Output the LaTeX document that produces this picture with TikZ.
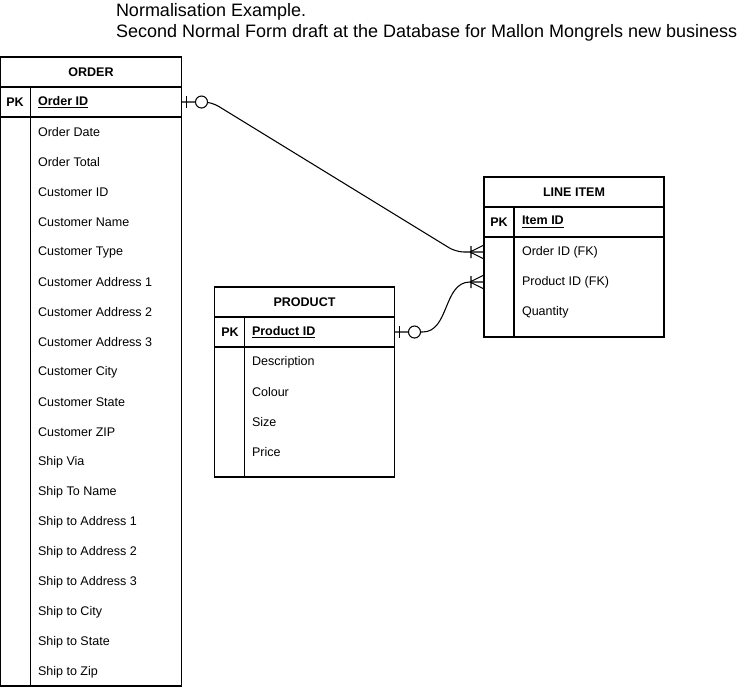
\documentclass[tikz,border=0pt]{standalone}
\usepackage{fontspec}
\setmainfont{Liberation Sans}
\usetikzlibrary{calc,positioning}
\newlength\upx
\setlength\upx{0.75pt}
\tikzset{
  every node/.style={outer sep=0pt},
  tabhead/.style={draw, line width=0.8pt, minimum height=30\upx, inner sep=0pt, font=\bfseries\fontsize{9.4}{11}\selectfont},
  keyrow/.style={draw, line width=0.8pt, minimum height=30\upx, inner sep=0pt},
  tabbody/.style={draw, line width=0.8pt, anchor=north west, inner sep=0pt},
  field/.style={anchor=west, inner sep=0pt, font=\fontsize{9.4}{11}\selectfont},
  keyname/.style={anchor=west, inner sep=0pt, font=\bfseries\fontsize{9.4}{11}\selectfont},
  pklabel/.style={inner sep=0pt, font=\bfseries\fontsize{9.4}{11}\selectfont},
  relline/.style={line width=0.8pt},
  zeroone/.pic={
    \draw[relline] (5,-6) -- (5,6);
    \draw[relline, fill=white] (20,0) circle[radius=4.5pt];
  },
  onemany/.pic={
    \draw[relline] (-14,0) -- (0,-7) (-14,0) -- (0,7) (-13,-6) -- (-13,6);
  },
}
\begin{document}
\begin{tikzpicture}[x=0.75pt, y=-0.75pt]
    \useasboundingbox (0,0) rectangle (755,687);

    % Title
    \node[anchor=north west, align=left, inner sep=0pt, font=\fontsize{13.5}{15.75}\selectfont] (title) at (116,3)
        {Normalisation Example.\\Second Normal Form draft at the Database for Mallon Mongrels new business};

    % Order
    \node[tabhead, minimum width=181\upx] (order) at (91,72) {ORDER};
    \node[keyrow, minimum width=181\upx] (orderpk) at (91,102) {};
    \node[tabbody, minimum width=181\upx, minimum height=569\upx] (orderbody) at (0.5,117) {};
    \draw[relline] ($(orderpk.north west)+(30,0)$) -- ($(orderbody.south west)+(30,0)$);
    \node[pklabel] (orderpkl) at (15,102) {PK};
    \node[keyname] (orderid) at (38,102) {\underline{Order ID}};
    \foreach \f [count=\i] in {Order Date, Order Total, Customer ID, Customer Name, Customer Type,
        Customer Address 1, Customer Address 2, Customer Address 3, Customer City, Customer State,
        Customer ZIP, Ship Via, Ship To Name, Ship to Address 1, Ship to Address 2, Ship to Address 3,
        Ship to City, Ship to State, Ship to Zip}
        \node[field] (order\i) at (38,102+30*\i) {\f};

    % Line Item
    \node[tabhead, minimum width=180\upx] (li) at (574,192) {LINE ITEM};
    \node[keyrow, minimum width=180\upx] (lipk) at (574,222) {};
    \node[tabbody, minimum width=180\upx, minimum height=100\upx] (libody) at (484,237) {};
    \draw[relline] ($(lipk.north west)+(30,0)$) -- ($(libody.south west)+(30,0)$);
    \node[pklabel] (lipkl) at (499,222) {PK};
    \node[keyname] (liid) at (522,222) {\underline{Item ID}};
    \foreach \f [count=\i] in {Order ID (FK), Product ID (FK), Quantity}
        \node[field] (li\i) at (522,222+30*\i) {\f};

    % Product
    \node[tabhead, minimum width=180\upx] (prod) at (304.5,302) {PRODUCT};
    \node[keyrow, minimum width=180\upx] (prodpk) at (304.5,332) {};
    \node[tabbody, minimum width=180\upx, minimum height=130\upx] (prodbody) at (214.5,347) {};
    \draw[relline] ($(prodpk.north west)+(30,0)$) -- ($(prodbody.south west)+(30,0)$);
    \node[pklabel] (prodpkl) at (230,332) {PK};
    \node[keyname] (prodid) at (252,332) {\underline{Product ID}};
    \foreach \f [count=\i] in {Description, Colour, Size, Price}
        \node[field] (prod\i) at (252,332+30*\i) {\f};

    % Relations
    \draw[relline, rounded corners=8\upx] (orderpk.east) -- ++(30,0)
        -- ($(libody.west |- li1)+(-28,0)$) -- (libody.west |- li1);
    \draw[relline] (prodpk.east) -- ++(28,0) to[out=0, in=180]
        ($(libody.west |- li2)+(-14,0)$) -- (libody.west |- li2);
    \pic at (orderpk.east) {zeroone};
    \pic at (prodpk.east) {zeroone};
    \pic at (libody.west |- li1) {onemany};
    \pic at (libody.west |- li2) {onemany};
\end{tikzpicture}
\end{document}
